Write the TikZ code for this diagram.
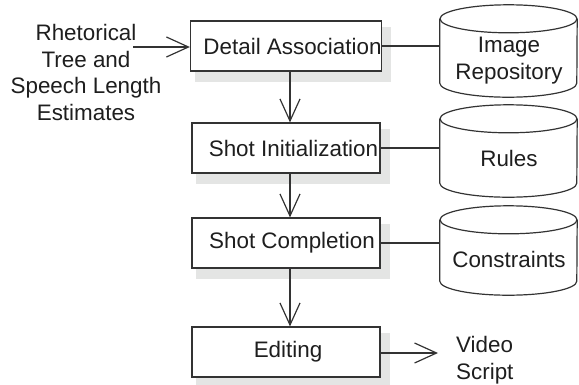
\documentclass[tikz,border=0pt]{standalone}
\usepackage{fontspec}
\setmainfont{Liberation Sans}
\usetikzlibrary{arrows.meta,backgrounds}
\definecolor{linec}{HTML}{333333}
\definecolor{textc}{HTML}{1E1E1E}
\definecolor{shadowc}{HTML}{E4E5E4}
\tikzset{
  every node/.style={text=textc, font=\fontsize{22.4}{26.8}\selectfont},
  procbox/.style={draw=linec, line width=1.2pt, fill=white, rectangle,
    minimum width=188pt, minimum height=50pt, inner sep=0pt},
  cylbody/.style={rectangle, minimum width=137pt, inner sep=0pt, draw=none},
  cyltext/.style={align=center, inner sep=0pt},
  conn/.style={draw=linec, line width=1.2pt},
  arr/.style={conn, -{Straight Barb[length=22pt,width=20pt,line width=1.2pt]}},
}
\newcommand{\cylpath}[1]{%
  \draw[conn, fill=white] (#1.north west) -- (#1.south west)
    arc[start angle=180, end angle=360, x radius=68.5pt, y radius=14pt]
    -- (#1.north east);
  \draw[conn] (#1.north) ellipse[x radius=68.5pt, y radius=14pt];
}
\begin{document}
\begin{tikzpicture}[x=1pt,y=-1pt]
\useasboundingbox (0,0) rectangle (579,384);

% process boxes
\node[procbox] (da) at (286,46)  {\hspace*{13pt}Detail Association};
\node[procbox] (si) at (286,148) {\hspace*{15pt}Shot Initialization};
\node[procbox] (sc) at (286,243) {\hspace*{12pt}Shot Completion};
\node[procbox] (ed) at (286,352) {\hspace*{4pt}Editing};

\begin{scope}[on background layer]
  \foreach \b in {da,si,sc,ed}{
    \fill[shadowc] ([xshift=5pt,yshift=-7pt]\b.north west) rectangle ([xshift=9pt,yshift=-10pt]\b.south east);
  }
\end{scope}

% cylinders
\node[cylbody, minimum height=64pt] (ir) at (508.5,51) {};
\node[cylbody, minimum height=64pt] (ru) at (508.5,151) {};
\node[cylbody, minimum height=61pt] (co) at (508.5,250.5) {};
\cylpath{ir}
\cylpath{ru}
\cylpath{co}
\node[cyltext] (irt) at (509,61) {Image\\Repository};
\node[cyltext] (rut) at (509,158) {Rules};
\node[cyltext] (cot) at (509,259) {Constraints};

% input and output texts
\node[align=center, inner sep=0pt] (inp) at (86,72.5) {Rhetorical\\Tree and\\Speech Length\\Estimates};
\coordinate (inpend) at (133,47);
\node[align=left, inner sep=0pt, anchor=west] (out) at (456,360) {Video\\Script};
\coordinate (outend) at (438,353);

% connectors
\draw[arr] (inpend) -- (da.west |- inpend);
\draw[arr] ([xshift=4pt]da.south) -- ([xshift=4pt]si.north);
\draw[arr] ([xshift=4pt]si.south) -- ([xshift=4pt]sc.north);
\draw[arr] ([xshift=4pt]sc.south) -- ([xshift=4pt]ed.north);
\draw[arr] (ed.east |- outend) -- (outend);
\draw[conn] (da.east) -- (da.east -| ir.west);
\draw[conn] (si.east) -- (si.east -| ru.west);
\draw[conn] (sc.east) -- (sc.east -| co.west);
\end{tikzpicture}
\end{document}
